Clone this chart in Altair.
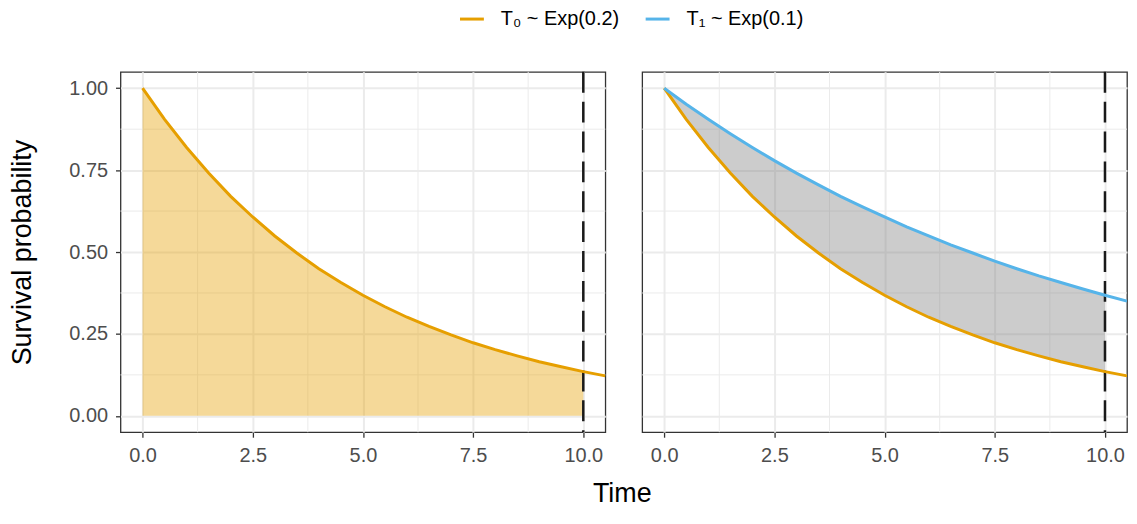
import altair as alt
import pandas as pd

# ---- data ----
time = [0.0, 0.5, 1.0, 1.5, 2.0, 2.5, 3.0, 3.5, 4.0, 4.5, 5.0,
        5.5, 6.0, 6.5, 7.0, 7.5, 8.0, 8.5, 9.0, 9.5, 10.0, 10.5]
surv0 = [1.000, 0.905, 0.819, 0.741, 0.670, 0.607, 0.549, 0.497, 0.449, 0.407, 0.368,
         0.333, 0.301, 0.273, 0.247, 0.223, 0.202, 0.183, 0.165, 0.150, 0.135, 0.122]
surv1 = [1.000, 0.951, 0.905, 0.861, 0.819, 0.779, 0.741, 0.705, 0.670, 0.638, 0.607,
         0.577, 0.549, 0.522, 0.497, 0.472, 0.449, 0.427, 0.407, 0.387, 0.368, 0.350]
tau = [10.0]
group_labels = ["T₀ ~ Exp(0.2)", "T₁ ~ Exp(0.1)"]
group_colors = ["#E69F00", "#56B4E9"]
x_ticks = [0, 2.5, 5, 7.5, 10]
y_ticks = [0, 0.25, 0.5, 0.75, 1.0]
x_minor = [1.25, 3.75, 6.25, 8.75]
y_minor = [0.125, 0.375, 0.625, 0.875]

n = len(time)
long_df = pd.DataFrame({
    "time": time + time,
    "surv": surv0 + surv1,
    "group": [group_labels[0]] * n + [group_labels[1]] * n,
})
wide_df = pd.DataFrame({"time": time, "s0": surv0, "s1": surv1})
fill_df = wide_df[wide_df["time"] <= tau[0]]
tau_df = pd.DataFrame({"tau": tau})
xminor_df = pd.DataFrame({"mx": x_minor})
yminor_df = pd.DataFrame({"my": y_minor})

W, H = 487, 362
xscale = alt.Scale(domain=[-0.5, 10.5], nice=False, zero=False)
yscale = alt.Scale(domain=[-0.05, 1.05], nice=False, zero=False)

xaxis = alt.Axis(values=x_ticks, format=".1f", title=None, grid=True,
                 gridColor="#EBEBEB", gridWidth=2, domain=False,
                 tickColor="#333333", tickSize=5, tickWidth=1.3,
                 labelColor="#4D4D4D", labelFontSize=20, labelPadding=8.5,
                 labelFont="Liberation Sans", labelFlush=False)


def yaxis(show):
    if show:
        return alt.Axis(values=y_ticks, format=".2f", title="Survival probability",
                        grid=True, gridColor="#EBEBEB", gridWidth=2, domain=False,
                        tickColor="#333333", tickSize=5, tickWidth=1.3,
                        labelColor="#4D4D4D", labelFontSize=20, labelPadding=8,
                        labelFont="Liberation Sans", labelFlush=False,
                        titleFont="Liberation Sans", titleFontSize=27,
                        titleFontWeight="normal", titleColor="black",
                        titlePadding=32)
    return alt.Axis(values=y_ticks, title=None, grid=True, gridColor="#EBEBEB",
                    gridWidth=2, domain=False, ticks=False, labels=False)


color_enc = alt.Color(
    "group:N",
    scale=alt.Scale(domain=group_labels, range=group_colors),
    legend=alt.Legend(
        title=None, orient="none", direction="horizontal",
        legendX=343, legendY=-63,
        symbolType="M-2,0H2", symbolSize=144, symbolStrokeWidth=3,
        labelFontSize=20, labelFont="Liberation Sans", labelColor="black",
        labelOffset=19, columnPadding=20.5, padding=0,
    ),
)


def panel(show_y, right):
    X = lambda f: alt.X(f, type="quantitative", scale=xscale, axis=xaxis)
    Y = lambda f: alt.Y(f, type="quantitative", scale=yscale, axis=yaxis(show_y))

    gx = alt.Chart(xminor_df).mark_rule(color="#EBEBEB", strokeWidth=1).encode(x=X("mx"))
    gy = alt.Chart(yminor_df).mark_rule(color="#EBEBEB", strokeWidth=1).encode(y=Y("my"))

    if right:
        area = alt.Chart(fill_df).mark_area(color="#7F7F7F", opacity=0.4).encode(
            x=X("time"), y=Y("s1"), y2=alt.Y2("s0"))
        line_data = long_df
    else:
        area = alt.Chart(fill_df).mark_area(color="#E69F00", opacity=0.4).encode(
            x=X("time"), y=Y("s0"), y2=alt.datum(0))
        line_data = long_df[long_df["group"] == group_labels[0]]

    vline = alt.Chart(tau_df).mark_rule(color="#1A1A1A", strokeWidth=2.5,
                                        strokeDash=[21, 9]).encode(x=X("tau"))
    lines = alt.Chart(line_data).mark_line(strokeWidth=3, clip=True).encode(
        x=X("time"), y=Y("surv"), color=color_enc)

    return alt.layer(gx, gy, area, vline, lines).properties(width=W, height=H)


chart = alt.hconcat(panel(True, False), panel(False, True), spacing=33).properties(
    title=alt.TitleParams("Time", orient="bottom", anchor="middle", fontSize=27,
                          font="Liberation Sans", fontWeight="normal",
                          color="black", offset=15, frame="group", dx=504),
    padding={"top": 0, "left": 0, "right": 0, "bottom": 0},
).configure(
    font="Liberation Sans", background="white"
).configure_view(stroke="#333333", strokeWidth=1.3)

chart.save("out.html", embed_options={"renderer": "svg", "actions": False})
